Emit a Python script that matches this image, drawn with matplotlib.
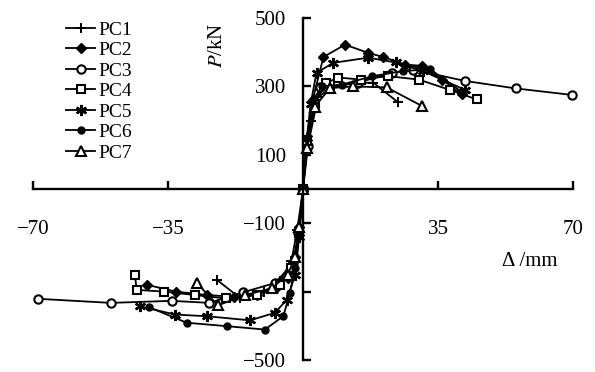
import matplotlib
matplotlib.use('Agg')
import matplotlib.pyplot as plt

plt.rcParams['font.family'] = ['Liberation Serif', 'DejaVu Serif']
plt.rcParams['mathtext.fontset'] = 'stix'
plt.rcParams['axes.unicode_minus'] = True

# Skeleton curves (displacement in mm, load in kN)
pc1_x = [-22.4, -16.3, -10, -6, -3, -1.5, 0, 1, 2, 4, 8, 14, 18.2, 24.7]
pc1_p = [-265, -319, -300, -270, -210, -120, 0, 110, 200, 270, 300, 310, 311, 253]

pc2_x = [-40.5, -33, -25, -18, -12, -7, -4, -2, -1, 0, 1, 2.5, 5.3, 10.9, 16.9, 20.8, 26.4, 30.8, 36, 41.1]
pc2_p = [-280, -300, -310, -315, -310, -290, -260, -200, -110, 0, 130, 260, 386, 422, 398, 386, 364, 360, 320, 277]

pc3_x = [-68.8, -49.8, -34, -24.3, -15.5, -7.3, -2.5, -1.2, 0, 1.3, 4.4, 14.3, 23, 28.5, 42, 55.2, 69.8]
pc3_p = [-321, -333, -327, -333, -302, -275, -217, -130, 0, 127, 297, 311, 340, 349, 316, 294, 275]

pc4_x = [-43.6, -43.1, -36, -28, -20, -12, -6, -3, -1, 0, 1, 3, 6, 9.1, 15, 22, 30, 38, 45]
pc4_p = [-251, -295, -300, -310, -320, -310, -280, -230, -130, 0, 140, 250, 310, 326, 320, 330, 320, 290, 262]

pc5_x = [-42.3, -33.2, -25, -13.7, -7.3, -4.2, -2, -1, 0, 1, 2, 3.5, 7.9, 16.9, 24, 31, 42]
pc5_p = [-343, -367, -372, -384, -362, -324, -250, -140, 0, 150, 250, 340, 369, 384, 370, 345, 290]

pc6_x = [-40, -30.2, -19.8, -9.9, -5.1, -3.4, -2, -1, 0, 1, 2.5, 5, 10, 18, 26, 33, 41]
pc6_p = [-345, -391, -401, -411, -372, -304, -230, -130, 0, 150, 260, 300, 305, 330, 345, 350, 285]

pc7_x = [-27.6, -22, -15, -8, -4, -2, -1, 0, 1, 3, 7, 13, 21.7, 30.8]
pc7_p = [-275, -340, -310, -290, -250, -200, -110, 0, 120, 240, 295, 300, 297, 243]

x_ticks = [-70, -35, 35, 70]
x_tick_labels = ['\u221270', '\u221235', '35', '70']
y_ticks = [500, 300, 100, -100, -300, -500]
y_tick_labels = ['500', '300', '100', '\u2212100', '', '\u2212500']

series = [
    ('PC1', pc1_x, pc1_p, dict(marker='+', ms=7, mew=1.4)),
    ('PC2', pc2_x, pc2_p, dict(marker='D', ms=5, mfc='black')),
    ('PC3', pc3_x, pc3_p, dict(marker='o', ms=6, mfc='white', mew=1.5)),
    ('PC4', pc4_x, pc4_p, dict(marker='s', ms=6, mfc='white', mew=1.5)),
    ('PC5', pc5_x, pc5_p, dict(marker=(6, 2, 0), ms=8, mew=1.7)),
    ('PC6', pc6_x, pc6_p, dict(marker='o', ms=5, mfc='black')),
    ('PC7', pc7_x, pc7_p, dict(marker='^', ms=6.5, mfc='white', mew=1.5)),
]

fig = plt.figure(figsize=(5.95, 3.72), dpi=100)
ax = fig.add_axes([33 / 595, 12 / 372, 540 / 595, 342 / 372])

for name, xs, ps, style in series:
    ax.plot(xs, ps, color='black', lw=1.3, mec='black', clip_on=False,
            label=name, **style)

ax.set_xlim(-70, 70)
ax.set_ylim(-500, 500)

for side in ['top', 'right']:
    ax.spines[side].set_visible(False)
ax.spines['left'].set_position('zero')
ax.spines['bottom'].set_position('zero')
ax.spines['left'].set_linewidth(1.7)
ax.spines['bottom'].set_linewidth(1.7)

ax.set_xticks(x_ticks)
ax.set_xticklabels(x_tick_labels)
ax.set_yticks(y_ticks)
ax.set_yticklabels(y_tick_labels)
ax.tick_params(axis='both', direction='in', length=5.5, width=1.7, labelsize=15)
ax.tick_params(axis='x', pad=22)
ax.tick_params(axis='y', pad=12)

fig.text(530 / 595, 1 - 262 / 372, '\u0394 /mm', fontsize=15, ha='center', va='center')
fig.text(218 / 595, 1 - 45 / 372, r'$P$/kN', fontsize=15, ha='center', va='center',
         rotation=90)

ax.legend(loc='upper left', bbox_to_anchor=(66 / 595, 1 - 21 / 372),
          bbox_transform=fig.transFigure, frameon=False, fontsize=14,
          handlelength=1.5, handletextpad=0.15, labelspacing=0.15,
          borderpad=0, borderaxespad=0)

fig.savefig('out.png', dpi=100)
